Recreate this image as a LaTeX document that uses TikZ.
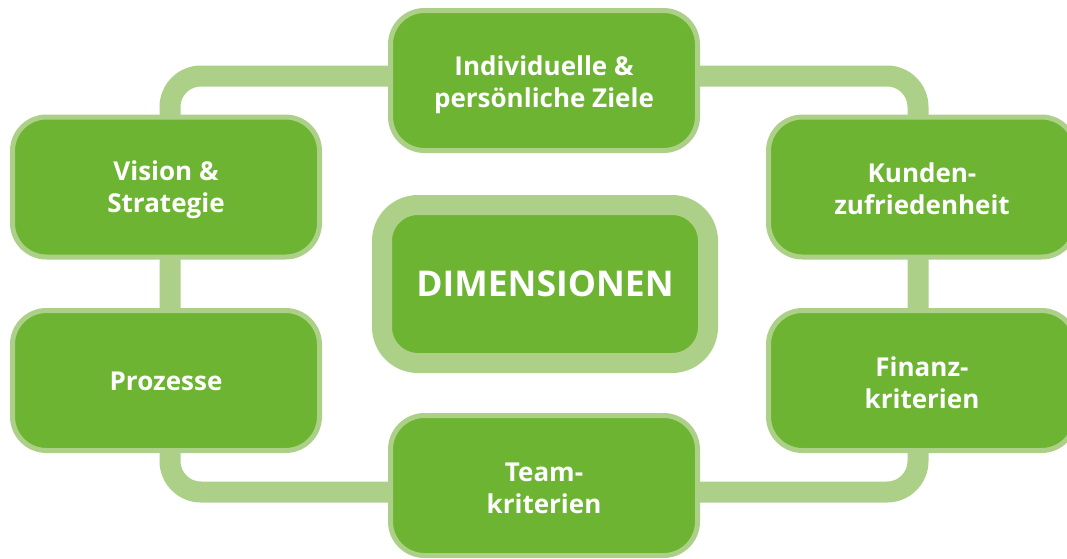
\documentclass[tikz,border=0pt]{standalone}
\usepackage{fontspec}
\setmainfont{Open Sans}
\definecolor{dgreen}{RGB}{108,180,50}
\definecolor{lgreen}{RGB}{173,208,136}
\tikzset{
  dimbox/.style={draw=lgreen, fill=dgreen, line width=5pt, rounded corners=34pt,
    minimum width=307pt, minimum height=140pt, inner sep=0pt},
  boxtext/.style={text=white, align=center, inner sep=0pt,
    font=\fontsize{26}{32}\selectfont\bfseries},
  centerbox/.style={draw=lgreen, fill=dgreen, line width=20pt, rounded corners=36pt,
    minimum width=326pt, minimum height=158pt, text=white, align=center,
    font=\fontsize{35.5}{40}\selectfont\bfseries, inner sep=0pt},
  loopline/.style={draw=lgreen, line width=21pt, rounded corners=31pt}
}
\begin{document}
\begin{tikzpicture}[x=1pt,y=-1pt]
\useasboundingbox (0,0) rectangle (1067,558);
\clip (0,0) rectangle (1067,558);
\coordinate (tl) at (170,76);
\coordinate (br) at (918,492);
\draw[loopline] (tl) rectangle (br);
\node[dimbox] (vision) at (166,187) {};
\node[boxtext] (visiont) at ([yshift=-3pt]vision.center) {Vision \&\\Strategie};
\node[dimbox] (prozesse) at (166,380.5) {};
\node[boxtext] (prozesset) at ([yshift=-1pt]prozesse.center) {Prozesse};
\node[dimbox] (indiv) at (544,80.5) {};
\node[boxtext] (indivt) at ([yshift=-4.5pt]indiv.center) {Individuelle \&\\persönliche Ziele};
\node[dimbox] (kunden) at (922,187) {};
\node[boxtext] (kundent) at ([yshift=-2pt]kunden.center) {Kunden-\\zufriedenheit};
\node[dimbox] (finanz) at (922,380.5) {};
\node[boxtext] (finanzt) at ([yshift=-2pt]finanz.center) {Finanz-\\kriterien};
\node[dimbox] (team) at (544,485.5) {};
\node[boxtext] (teamt) at ([yshift=-2.5pt]team.center) {Team-\\kriterien};
\node[centerbox] (dim) at (545,284) {DIMENSIONEN};
\end{tikzpicture}
\end{document}
